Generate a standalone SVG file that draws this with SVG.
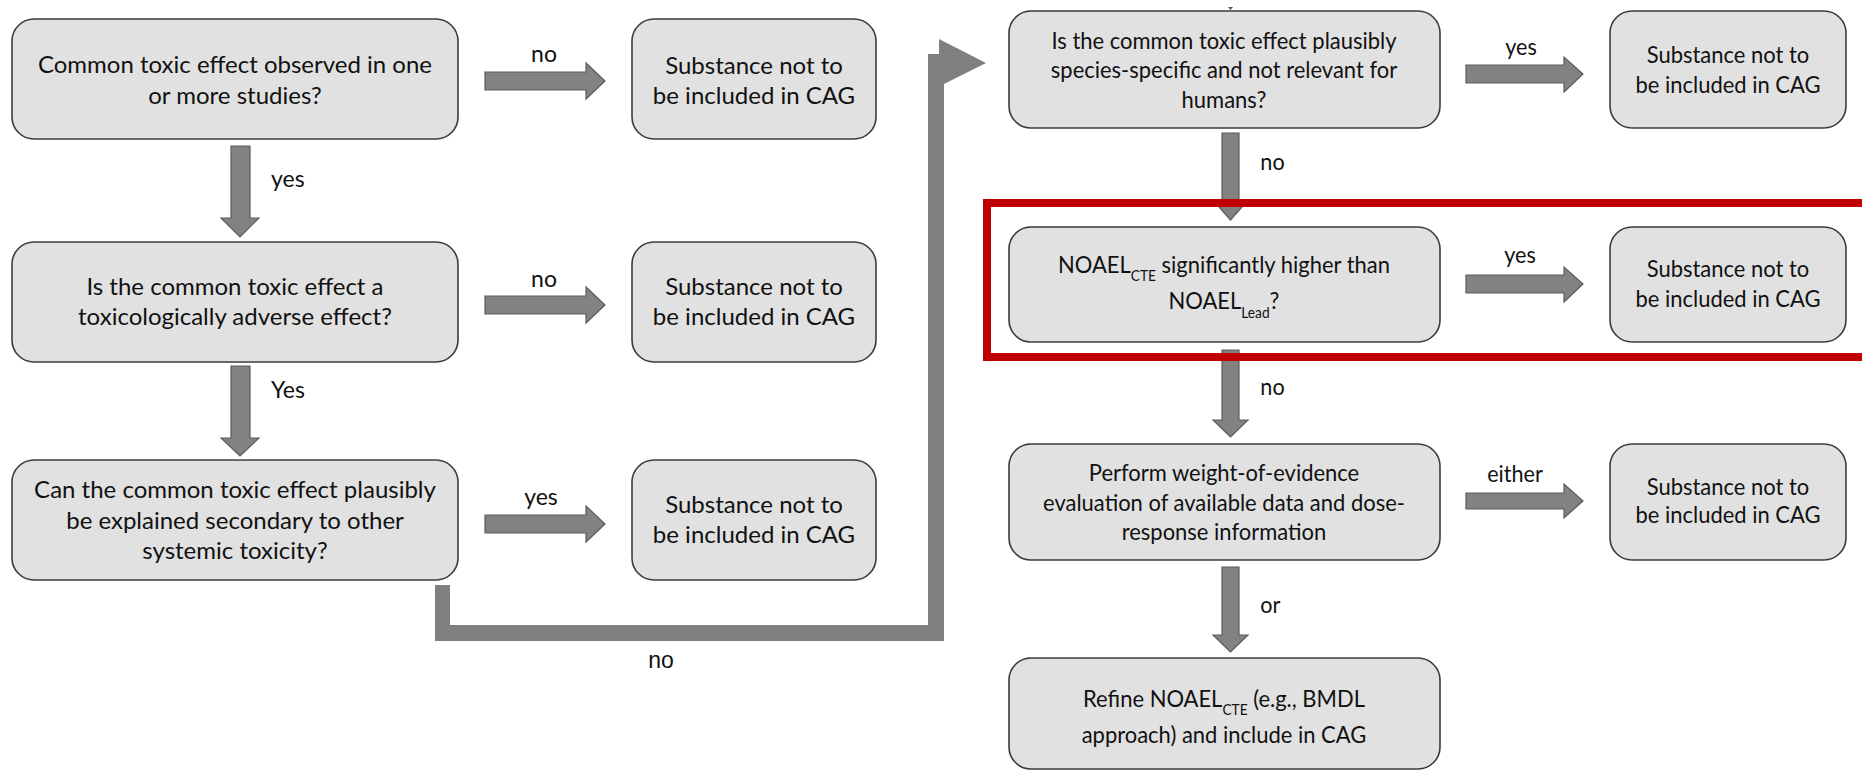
<svg xmlns="http://www.w3.org/2000/svg" width="1862" height="772" viewBox="0 0 1862 772">
<style>
.box{fill:#e1e1e1;stroke:#3c3c3c;stroke-width:1.6}
.arr{fill:#828282;stroke:#5c5c5c;stroke-width:1.2}
.bar{fill:#808080}
.t{font-family:Lato,"Liberation Sans",sans-serif;font-size:24px;fill:#111;text-anchor:middle}
.tr{font-family:Lato,"Liberation Sans",sans-serif;font-size:24px;fill:#111;text-anchor:middle;transform-box:fill-box;transform-origin:center;transform:scaleX(0.915)}
.lb{font-family:Lato,"Liberation Sans",sans-serif;font-size:23px;fill:#111}
.lr{font-family:Lato,"Liberation Sans",sans-serif;font-size:24px;fill:#111;transform-box:fill-box;transform-origin:center;transform:scaleX(0.9)}
.sub{font-size:15px}
</style>
<rect width="1862" height="772" fill="#ffffff"/>
<g id="connectors">
<polygon class="arr" points="485,72 586,72 586,63 605,81 586,99 586,90 485,90"/>
<polygon class="arr" points="485,296 586,296 586,287 605,305 586,323 586,314 485,314"/>
<polygon class="arr" points="485,515 586,515 586,506 605,524 586,542 586,533 485,533"/>
<polygon class="arr" points="231,146 250,146 250,218 259,218 240,237 221,218 231,218"/>
<polygon class="arr" points="231,366 250,366 250,438 259,438 240,456 221,438 231,438"/>
<polygon class="bar" points="435,585 450,585 450,625 928,625 928,54 939,54 939,39 986,63 944,84 944,641 435,641"/>
<polygon class="arr" points="1466,65 1564,65 1564,57 1583,74 1564,92 1564,83 1466,83"/>
<polygon class="arr" points="1466,275 1564,275 1564,267 1583,284 1564,302 1564,293 1466,293"/>
<polygon class="arr" points="1466,493 1564,493 1564,484 1583,501 1564,518 1564,509 1466,509"/>
<polygon class="arr" points="1222,133 1239,133 1239,200 1248,200 1230.5,220 1213,200 1222,200"/>
<polygon class="arr" points="1222,350 1239,350 1239,420 1248,420 1230.5,437 1213,420 1222,420"/>
<polygon class="arr" points="1222,567 1239,567 1239,635 1248,635 1230.5,652 1213,635 1222,635"/>
<polygon fill="#555" points="1228,7 1233,7 1230.5,10"/>
<text class="lb" x="544" y="62" text-anchor="middle">no</text>
<text class="lb" x="544" y="287" text-anchor="middle">no</text>
<text class="lb" x="541" y="505" text-anchor="middle">yes</text>
<text class="lb" x="271" y="187">yes</text>
<text class="lb" x="271" y="398">Yes</text>
<text x="661" y="668" text-anchor="middle" style="font-family:'Liberation Sans',Arial,sans-serif;font-size:23px;fill:#111">no</text>
<text class="lr" x="1521" y="55" text-anchor="middle">yes</text>
<text class="lr" x="1520" y="263" text-anchor="middle">yes</text>
<text class="lr" x="1515" y="482" text-anchor="middle">either</text>
<text class="lr" x="1259" y="170">no</text>
<text class="lr" x="1259" y="395">no</text>
<text class="lr" x="1259" y="613">or</text>
</g>
<g id="n1"><rect class="box" x="12" y="19" width="446" height="120" rx="22"/>
<text class="t" x="235" y="73">Common toxic effect observed in one</text>
<text class="t" x="235" y="104">or more studies?</text></g>
<g id="n2"><rect class="box" x="12" y="242" width="446" height="120" rx="22"/>
<text class="t" x="235" y="295">Is the common toxic effect a</text>
<text class="t" x="235" y="325">toxicologically adverse effect?</text></g>
<g id="n3"><rect class="box" x="12" y="460" width="446" height="120" rx="22"/>
<text class="t" x="235" y="498">Can the common toxic effect plausibly</text>
<text class="t" x="235" y="529">be explained secondary to other</text>
<text class="t" x="235" y="559">systemic toxicity?</text></g>
<g id="s1"><rect class="box" x="632" y="19" width="244" height="120" rx="22"/>
<text class="t" x="754" y="74">Substance not to</text>
<text class="t" x="754" y="104">be included in CAG</text></g>
<g id="s2"><rect class="box" x="632" y="242" width="244" height="120" rx="22"/>
<text class="t" x="754" y="295">Substance not to</text>
<text class="t" x="754" y="325">be included in CAG</text></g>
<g id="s3"><rect class="box" x="632" y="460" width="244" height="120" rx="22"/>
<text class="t" x="754" y="513">Substance not to</text>
<text class="t" x="754" y="543">be included in CAG</text></g>
<g id="r1"><rect class="box" x="1009" y="11" width="431" height="117" rx="22"/>
<text class="tr" x="1224" y="49">Is the common toxic effect plausibly</text>
<text class="tr" x="1224" y="78">species-specific and not relevant for</text>
<text class="tr" x="1224" y="108">humans?</text></g>
<g id="rs1"><rect class="box" x="1610" y="11" width="236" height="117" rx="22"/>
<text class="tr" x="1728" y="63">Substance not to</text>
<text class="tr" x="1728" y="93">be included in CAG</text></g>
<g id="r2"><rect class="box" x="1009" y="227" width="431" height="115" rx="22"/>
<text class="tr" x="1224" y="273">NOAEL<tspan class="sub" dy="8">CTE</tspan><tspan dy="-8"> significantly higher than</tspan></text>
<text class="tr" x="1224" y="309">NOAEL<tspan class="sub" dy="9">Lead</tspan><tspan dy="-9">?</tspan></text></g>
<g id="rs2"><rect class="box" x="1610" y="227" width="236" height="115" rx="22"/>
<text class="tr" x="1728" y="277">Substance not to</text>
<text class="tr" x="1728" y="307">be included in CAG</text></g>
<g id="r3"><rect class="box" x="1009" y="444" width="431" height="116" rx="22"/>
<text class="tr" x="1224" y="481">Perform weight-of-evidence</text>
<text class="tr" x="1224" y="511">evaluation of available data and dose-</text>
<text class="tr" x="1224" y="540">response information</text></g>
<g id="rs3"><rect class="box" x="1610" y="444" width="236" height="116" rx="22"/>
<text class="tr" x="1728" y="495">Substance not to</text>
<text class="tr" x="1728" y="523">be included in CAG</text></g>
<g id="r4"><rect class="box" x="1009" y="658" width="431" height="111" rx="22"/>
<text class="tr" x="1224" y="707">Refine NOAEL<tspan class="sub" dy="8">CTE</tspan><tspan dy="-8"> (e.g., BMDL</tspan></text>
<text class="tr" x="1224" y="743">approach) and include in CAG</text></g>
<g id="highlight"><rect x="987" y="203" width="900" height="154" fill="none" stroke="#c00000" stroke-width="8"/></g>
</svg>
